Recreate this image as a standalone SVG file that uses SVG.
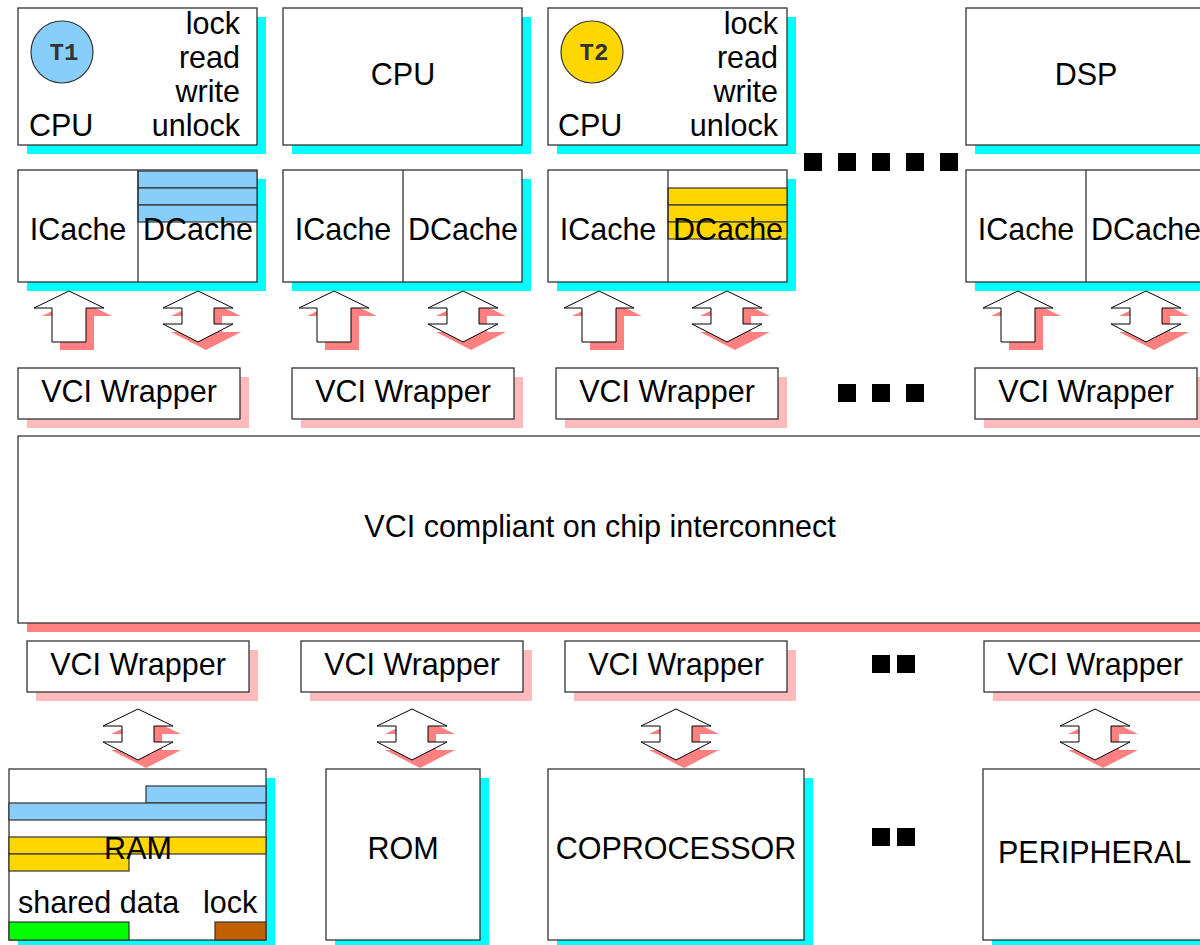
<svg xmlns="http://www.w3.org/2000/svg" width="1200" height="945" viewBox="0 0 1200 945">
<style>
.box{fill:#fff;stroke:#333;stroke-width:1.3}
.cy{fill:#00ffff}
.pk{fill:#ffbbbb}
.pk2{fill:#ff8080}
.t{font-family:"Liberation Sans",Arial,sans-serif;font-size:30.5px;fill:#000}
.m{text-anchor:middle}
.e{text-anchor:end}
.ar{fill:#fff;stroke:#000;stroke-width:1}
.blue{fill:#87cefa;stroke:#333;stroke-width:1.2}
.yel{fill:#ffd700;stroke:#333;stroke-width:1.2}
.dot{fill:#000}
.tl{font-family:"Liberation Mono","Courier New",monospace;font-weight:bold;font-size:24px;fill:#333;text-anchor:middle}
</style>
<defs>
<polygon id="up" points="0,0 35,17 17,17 17,51 -17,51 -17,17 -35,17"/>
<polygon id="dbl" points="0,0 35,17 16,17 16,33 35,33 0,51 -35,33 -16,33 -16,17 -35,17"/>
</defs>

<!-- CPU 1 -->
<g id="cpu1">
<rect class="cy" x="27" y="17" width="239" height="137"/>
<rect class="box" x="18" y="8" width="239" height="137"/>
<circle cx="62" cy="52" r="31" fill="#87cefa" stroke="#333" stroke-width="1.2"/>
<text class="tl" x="64" y="60">T1</text>
<text class="t e" x="240" y="34">lock</text>
<text class="t e" x="240" y="68">read</text>
<text class="t e" x="240" y="102">write</text>
<text class="t e" x="240" y="136">unlock</text>
<text class="t" x="29" y="136">CPU</text>
</g>
<g id="cache1">
<rect class="cy" x="27" y="179" width="239" height="112"/>
<rect class="box" x="18" y="170" width="239" height="112"/>
<rect class="blue" x="138" y="171" width="119" height="17"/>
<rect class="blue" x="138" y="188" width="119" height="17"/>
<rect class="blue" x="138" y="205" width="119" height="17"/>
<line x1="138" y1="170" x2="138" y2="282" stroke="#333" stroke-width="1.3"/>
<text class="t m" x="78" y="240">ICache</text>
<text class="t m" x="198" y="240">DCache</text>
</g>

<!-- CPU 2 -->
<g id="cpu2">
<rect class="cy" x="292" y="17" width="239" height="137"/>
<rect class="box" x="283" y="8" width="239" height="137"/>
<text class="t m" x="403" y="85">CPU</text>
</g>
<g id="cache2">
<rect class="cy" x="292" y="179" width="239" height="112"/>
<rect class="box" x="283" y="170" width="239" height="112"/>
<line x1="403" y1="170" x2="403" y2="282" stroke="#333" stroke-width="1.3"/>
<text class="t m" x="343" y="240">ICache</text>
<text class="t m" x="463" y="240">DCache</text>
</g>

<!-- CPU 3 -->
<g id="cpu3">
<rect class="cy" x="557" y="17" width="239" height="137"/>
<rect class="box" x="548" y="8" width="239" height="137"/>
<circle cx="592" cy="52" r="31" fill="#ffd700" stroke="#333" stroke-width="1.2"/>
<text class="tl" x="594" y="60">T2</text>
<text class="t e" x="778" y="34">lock</text>
<text class="t e" x="778" y="68">read</text>
<text class="t e" x="778" y="102">write</text>
<text class="t e" x="778" y="136">unlock</text>
<text class="t" x="558" y="136">CPU</text>
</g>
<g id="cache3">
<rect class="cy" x="557" y="179" width="239" height="112"/>
<rect class="box" x="548" y="170" width="239" height="112"/>
<rect class="yel" x="668" y="188" width="119" height="17"/>
<rect class="yel" x="668" y="205" width="119" height="17"/>
<rect class="yel" x="668" y="222" width="119" height="17"/>
<line x1="668" y1="170" x2="668" y2="282" stroke="#333" stroke-width="1.3"/>
<text class="t m" x="608" y="240">ICache</text>
<text class="t m" x="728" y="240">DCache</text>
</g>

<!-- DSP -->
<g id="dsp">
<rect class="cy" x="975" y="17" width="250" height="137"/>
<rect class="box" x="966" y="8" width="250" height="137"/>
<text class="t m" x="1086" y="85">DSP</text>
</g>
<g id="cache4">
<rect class="cy" x="975" y="179" width="250" height="112"/>
<rect class="box" x="966" y="170" width="250" height="112"/>
<line x1="1086" y1="170" x2="1086" y2="282" stroke="#333" stroke-width="1.3"/>
<text class="t m" x="1026" y="240">ICache</text>
<text class="t m" x="1146" y="240">DCache</text>
</g>

<g id="dots">
<rect class="dot" x="804" y="153" width="18" height="18"/>
<rect class="dot" x="838" y="153" width="18" height="18"/>
<rect class="dot" x="872" y="153" width="18" height="18"/>
<rect class="dot" x="906" y="153" width="18" height="18"/>
<rect class="dot" x="940" y="153" width="18" height="18"/>
<rect class="dot" x="838" y="384" width="18" height="18"/>
<rect class="dot" x="872" y="384" width="18" height="18"/>
<rect class="dot" x="906" y="384" width="18" height="18"/>
<rect class="dot" x="872" y="655" width="18" height="18"/>
<rect class="dot" x="897" y="655" width="18" height="18"/>
<rect class="dot" x="872" y="828" width="18" height="18"/>
<rect class="dot" x="897" y="828" width="18" height="18"/>
</g>

<!-- connectors -->
<g id="connectors">
<use href="#up" x="77" y="299" class="pk2"/>
<use href="#up" x="69" y="291" class="ar"/>
<use href="#dbl" x="206" y="299" class="pk2"/>
<use href="#dbl" x="198" y="291" class="ar"/>
<use href="#up" x="342" y="299" class="pk2"/>
<use href="#up" x="334" y="291" class="ar"/>
<use href="#dbl" x="471" y="299" class="pk2"/>
<use href="#dbl" x="463" y="291" class="ar"/>
<use href="#up" x="607" y="299" class="pk2"/>
<use href="#up" x="599" y="291" class="ar"/>
<use href="#dbl" x="735" y="299" class="pk2"/>
<use href="#dbl" x="727" y="291" class="ar"/>
<use href="#up" x="1026" y="299" class="pk2"/>
<use href="#up" x="1018" y="291" class="ar"/>
<use href="#dbl" x="1154" y="299" class="pk2"/>
<use href="#dbl" x="1146" y="291" class="ar"/>
<use href="#dbl" x="146" y="717" class="pk2"/>
<use href="#dbl" x="138" y="709" class="ar"/>
<use href="#dbl" x="420" y="717" class="pk2"/>
<use href="#dbl" x="412" y="709" class="ar"/>
<use href="#dbl" x="684" y="717" class="pk2"/>
<use href="#dbl" x="676" y="709" class="ar"/>
<use href="#dbl" x="1103" y="717" class="pk2"/>
<use href="#dbl" x="1095" y="709" class="ar"/>
</g>

<!-- top wrappers -->
<g id="wrapT1"><rect class="pk" x="27" y="377" width="222" height="51"/><rect class="box" x="18" y="368" width="222" height="51"/><text class="t m" x="129" y="402">VCI Wrapper</text></g>
<g id="wrapT2"><rect class="pk" x="301" y="377" width="222" height="51"/><rect class="box" x="292" y="368" width="222" height="51"/><text class="t m" x="403" y="402">VCI Wrapper</text></g>
<g id="wrapT3"><rect class="pk" x="565" y="377" width="222" height="51"/><rect class="box" x="556" y="368" width="222" height="51"/><text class="t m" x="667" y="402">VCI Wrapper</text></g>
<g id="wrapT4"><rect class="pk" x="984" y="377" width="222" height="51"/><rect class="box" x="975" y="368" width="222" height="51"/><text class="t m" x="1086" y="402">VCI Wrapper</text></g>

<!-- interconnect -->
<g id="interconnect">
<rect class="pk2" x="27" y="445" width="1190" height="187"/>
<rect class="box" x="18" y="436" width="1190" height="187"/>
<text class="t m" x="600" y="537">VCI compliant on chip interconnect</text>
</g>

<!-- bottom wrappers -->
<g id="wrapB1"><rect class="pk" x="36" y="650" width="222" height="51"/><rect class="box" x="27" y="641" width="222" height="51"/><text class="t m" x="138" y="675">VCI Wrapper</text></g>
<g id="wrapB2"><rect class="pk" x="310" y="650" width="222" height="51"/><rect class="box" x="301" y="641" width="222" height="51"/><text class="t m" x="412" y="675">VCI Wrapper</text></g>
<g id="wrapB3"><rect class="pk" x="574" y="650" width="222" height="51"/><rect class="box" x="565" y="641" width="222" height="51"/><text class="t m" x="676" y="675">VCI Wrapper</text></g>
<g id="wrapB4"><rect class="pk" x="993" y="650" width="222" height="51"/><rect class="box" x="984" y="641" width="222" height="51"/><text class="t m" x="1095" y="675">VCI Wrapper</text></g>

<!-- RAM -->
<g id="ram">
<rect class="cy" x="18" y="778" width="257" height="171"/>
<rect class="box" x="9" y="769" width="257" height="171"/>
<rect class="blue" x="146" y="786" width="120" height="17"/>
<rect class="blue" x="9" y="803" width="257" height="17"/>
<rect class="yel" x="9" y="837" width="257" height="17"/>
<rect class="yel" x="9" y="854" width="120" height="17"/>
<rect x="9" y="922" width="120" height="18" fill="#00ff00" stroke="#333" stroke-width="1.2"/>
<rect x="215" y="922" width="51" height="18" fill="#c06000" stroke="#333" stroke-width="1.2"/>
<text class="t m" x="138" y="859">RAM</text>
<text class="t" x="18" y="913">shared data</text>
<text class="t" x="203" y="913">lock</text>
</g>
<g id="rom">
<rect class="cy" x="335" y="778" width="154" height="171"/>
<rect class="box" x="326" y="769" width="154" height="171"/>
<text class="t m" x="403" y="859">ROM</text>
</g>
<g id="coprocessor">
<rect class="cy" x="557" y="778" width="256" height="171"/>
<rect class="box" x="548" y="769" width="256" height="171"/>
<text class="t m" x="676" y="859">COPROCESSOR</text>
</g>
<g id="peripheral">
<rect class="cy" x="992" y="778" width="250" height="171"/>
<rect class="box" x="983" y="769" width="250" height="171"/>
<text class="t" x="998" y="863">PERIPHERAL</text>
</g>
</svg>
